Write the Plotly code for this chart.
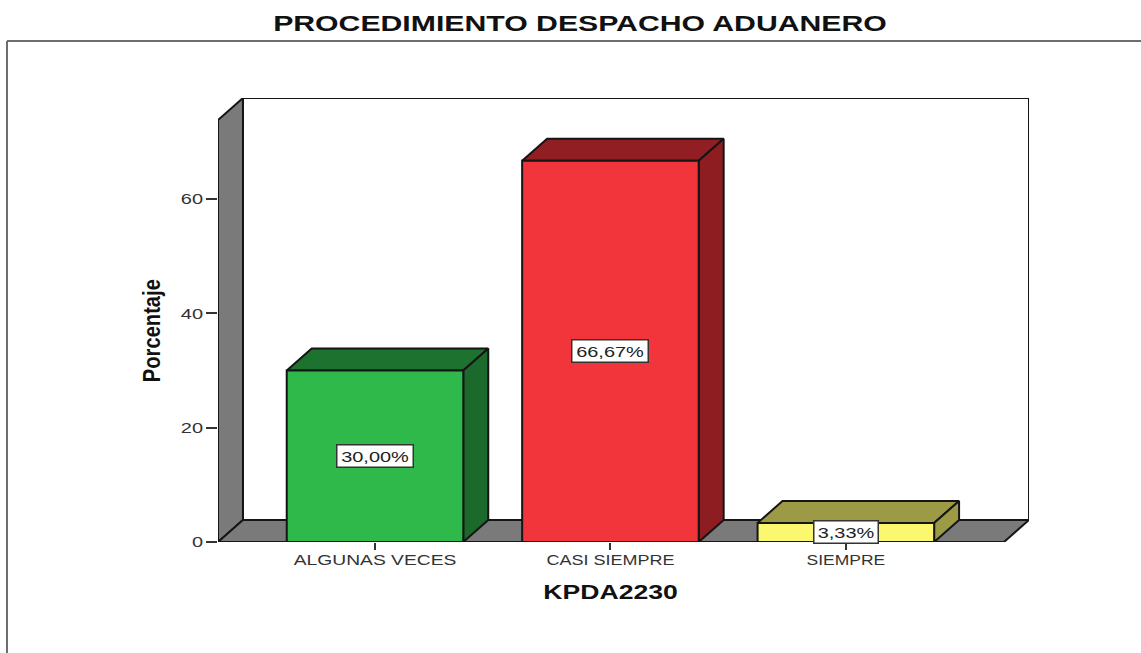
import plotly.graph_objects as go

categories = ["ALGUNAS VECES", "CASI SIEMPRE", "SIEMPRE"]
values = [30.00, 66.67, 3.33]
y_ticks = [0, 20, 40, 60]
front_colors = ["#2FB94A", "#F2343B", "#FBF76E"]
top_colors = ["#1D7230", "#901E22", "#9C9A45"]
side_colors = ["#1B6A2C", "#8E1D21", "#9C9A45"]
wall_color = "#7A7A7A"
title_text = "PROCEDIMIENTO DESPACHO ADUANERO"
x_title = "KPDA2230"
y_title = "Porcentaje"

# Chart-frame geometry in axis units
BAR_W = 0.75
DX = 0.106
DY = 3.85
X_L, X_R = -0.667, 2.672
Y_TOP = 73.8

W, H = 1141, 653
L, R, T, B = 218, 1029, 98, 542
FONT = "Liberation Sans"


def poly(xs, ys, fill, lw=2):
    return go.Scatter(x=xs + xs[:1], y=ys + ys[:1], mode="lines", fill="toself",
                      fillcolor=fill, line=dict(color="#151515", width=lw),
                      hoverinfo="skip", showlegend=False, cliponaxis=False)


def fx(px):
    return (px - L) / (R - L)


def fy(py):
    return (B - py) / (B - T)


fig = go.Figure()
# back wall, left wall, floor
fig.add_trace(poly([X_L + DX, X_R + DX, X_R + DX, X_L + DX],
                   [DY, DY, Y_TOP + DY, Y_TOP + DY], "#FFFFFF"))
fig.add_trace(poly([X_L, X_L + DX, X_L + DX, X_L],
                   [0, DY, Y_TOP + DY, Y_TOP], wall_color))
fig.add_trace(poly([X_L, X_R, X_R + DX, X_L + DX],
                   [0, 0, DY, DY], wall_color))

annotations = []
for i, v in enumerate(values):
    x0, x1 = i - BAR_W / 2, i + BAR_W / 2
    fig.add_trace(poly([x0, x1, x1 + DX, x0 + DX], [v, v, v + DY, v + DY], top_colors[i]))
    fig.add_trace(poly([x1, x1 + DX, x1 + DX, x1], [0, DY, v + DY, v], side_colors[i]))
    fig.add_trace(poly([x0, x1, x1, x0], [0, 0, v, v], front_colors[i]))
    label = f"{v:.2f}%".replace(".", ",")
    annotations.append(dict(
        x=i, y=v / 2, xref="x", yref="y", showarrow=False, text=label,
        font=dict(family=FONT, size=15, color="#222222"),
        width=12 * len(label) + 3, height=21,
        bgcolor="#FFFFFF", bordercolor="#333333", borderwidth=1.5, borderpad=0,
    ))

annotations.append(dict(
    x=fx(610), y=fy(592), xref="paper", yref="paper", xanchor="center", yanchor="middle",
    showarrow=False, text=x_title,
    font=dict(family=FONT, size=20, color="#111111", weight=700)))
annotations.append(dict(
    x=fx(151), y=fy(331), xref="paper", yref="paper", xanchor="center", yanchor="middle",
    showarrow=False, text=y_title, textangle=-90,
    font=dict(family=FONT, size=24, color="#111111", weight=700)))

frame = [
    dict(type="line", xref="paper", yref="paper", x0=fx(7), x1=fx(W), y0=fy(41), y1=fy(41),
         line=dict(color="#6E6E6E", width=2)),
    dict(type="line", xref="paper", yref="paper", x0=fx(7), x1=fx(7), y0=fy(41), y1=fy(H),
         line=dict(color="#6E6E6E", width=2)),
]

fig.update_layout(
    width=W, height=H, autosize=False,
    margin=dict(l=L, r=W - R, t=T, b=H - B, pad=0),
    paper_bgcolor="#FFFFFF", plot_bgcolor="#FFFFFF",
    showlegend=False,
    title=dict(text=title_text,
               font=dict(family=FONT, size=22, color="#111111", weight=700),
               x=580 / W, xanchor="center", y=1 - 23.5 / H, yanchor="middle"),
    xaxis=dict(range=[X_L, X_R + DX], tickmode="array", tickvals=list(range(len(categories))),
               ticktext=categories, ticks="outside", ticklen=7, tickwidth=1.5, tickcolor="#333333",
               showgrid=False, zeroline=False, showline=False, ticklabelstandoff=-3,
               tickfont=dict(family=FONT, size=15, color="#333333")),
    yaxis=dict(range=[0, Y_TOP + DY], tickmode="array", tickvals=y_ticks,
               ticks="outside", ticklen=11, tickwidth=1.5, tickcolor="#333333",
               showgrid=False, zeroline=False, showline=False,
               tickfont=dict(family=FONT, size=15, color="#333333")),
    shapes=frame,
    annotations=annotations,
)

# The reference's text is horizontally stretched (or squeezed); apply the same to real SVG text.
post = """
document.body.style.margin='0';document.body.style.overflow='hidden';
function st(sel,f,match){document.querySelectorAll(sel).forEach(function(t){
  if(match&&!match(t.textContent))return;
  t.setAttribute('textLength',t.getComputedTextLength()*f);
  t.setAttribute('lengthAdjust','spacingAndGlyphs');});}
function is(v){return function(s){return s===v;};}
st('.gtitle',1.373);
st('.xtick text',1.283,is('ALGUNAS VECES'));
st('.xtick text',1.2,is('CASI SIEMPRE'));
st('.xtick text',1.165,is('SIEMPRE'));
st('.ytick text',1.33);
st('.annotation-text',1.33,function(s){return s.indexOf('%')>=0;});
st('.annotation-text',1.33,is('KPDA2230'));
st('.annotation-text',0.84,is('Porcentaje'));
"""
fig.write_html("out.html", config={"displayModeBar": False}, post_script=post)
